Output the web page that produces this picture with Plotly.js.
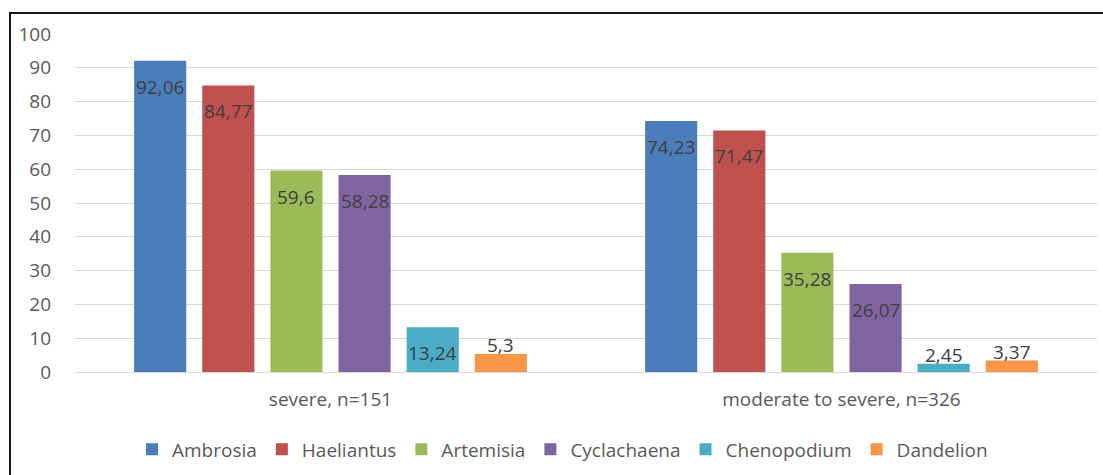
<!DOCTYPE html>
<html>
<head>
<meta charset="utf-8">
<script src="https://cdn.plot.ly/plotly-3.0.1.min.js"></script>
<style>
  html, body { margin: 0; padding: 0; background: #fff; }
  #wrap { position: relative; width: 1103px; height: 475px; overflow: hidden; }
  #chart { width: 1103px; height: 475px; }
  #frame { position: absolute; left: 9px; top: 12px; width: 1200px; height: 600px;
           border-left: 2px solid #1a1a1a; border-top: 2px solid #1a1a1a; pointer-events: none; }
</style>
</head>
<body>
<div id="wrap">
  <div id="chart"></div>
  <div id="frame"></div>
</div>
<script>
const categories = ["severe, n=151", "moderate to severe, n=326"];
const seriesNames = ["Ambrosia", "Haeliantus", "Artemisia", "Cyclachaena", "Chenopodium", "Dandelion"];
const ambrosia    = [92.06, 74.23];
const haeliantus  = [84.77, 71.47];
const artemisia   = [59.6, 35.28];
const cyclachaena = [58.28, 26.07];
const chenopodium = [13.24, 2.45];
const dandelion   = [5.3, 3.37];
const yTicks = [0, 10, 20, 30, 40, 50, 60, 70, 80, 90, 100];

const seriesValues = [ambrosia, haeliantus, artemisia, cyclachaena, chenopodium, dandelion];
const colors = ["#4A7EBB", "#C0504D", "#9BBB59", "#8064A2", "#4BACC6", "#F79646"];

const FONT = 'Open Sans, sans-serif';
const W = 1103, H = 475;
const M = { l: 75, r: 6, t: 34, b: 101 };
const BARGAP = 0.2, BARGROUPGAP = 0.235;

const fmt = v => String(v).replace('.', ',');

const traces = seriesNames.map((name, i) => ({
  type: 'bar',
  name: name,
  x: categories,
  y: seriesValues[i],
  marker: { color: colors[i] },
  hoverinfo: 'skip'
}));

// data labels placed at each bar's (category, value) through the axes
const plotW = W - M.l - M.r;
const slotPx = plotW / categories.length * (1 - BARGAP) / seriesNames.length;
const annotations = [];
seriesValues.forEach((vals, i) => {
  vals.forEach((v, j) => {
    const inside = v > 10;
    annotations.push({
      x: categories[j],
      y: v,
      xref: 'x', yref: 'y',
      text: fmt(v),
      showarrow: false,
      xshift: (i - (seriesNames.length - 1) / 2) * slotPx,
      yanchor: inside ? 'middle' : 'bottom',
      yshift: inside ? -26 : -6,
      font: { family: FONT, size: 19, color: '#404040' }
    });
  });
});

const layout = {
  width: W,
  height: H,
  margin: M,
  paper_bgcolor: '#ffffff',
  plot_bgcolor: '#ffffff',
  barmode: 'group',
  bargap: BARGAP,
  bargroupgap: BARGROUPGAP,
  font: { family: FONT, size: 19, color: '#595959' },
  showlegend: true,
  legend: {
    orientation: 'h',
    x: 0.477, xanchor: 'center',
    y: -0.229, yanchor: 'middle',
    font: { family: FONT, size: 19, color: '#595959' },
    itemclick: false
  },
  annotations: annotations,
  xaxis: {
    type: 'category',
    showgrid: false,
    showline: true,
    linecolor: '#d9d9d9',
    linewidth: 1,
    ticks: '',
    ticklabelstandoff: 10,
    tickfont: { family: FONT, size: 19, color: '#595959' }
  },
  yaxis: {
    range: [0, 100],
    tickvals: yTicks,
    ticktext: yTicks.map(String),
    showgrid: true,
    gridcolor: '#d9d9d9',
    gridwidth: 1,
    zeroline: false,
    showline: false,
    ticks: '',
    ticklabelstandoff: 23,
    tickfont: { family: FONT, size: 19, color: '#595959' }
  }
};

Plotly.newPlot('chart', traces, layout, { displayModeBar: false, staticPlot: true });
</script>
</body>
</html>
